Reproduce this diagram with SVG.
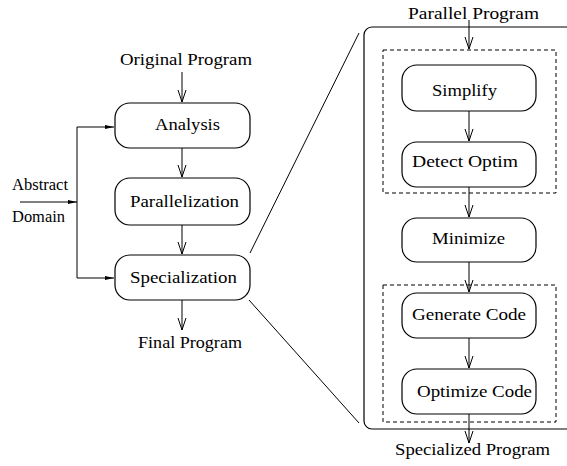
<svg xmlns="http://www.w3.org/2000/svg" width="567" height="466" viewBox="0 0 567 466">
<style>
text{font-family:"Liberation Serif","Times New Roman",serif;font-size:16px;fill:#000}
.box{fill:#fff;stroke:#000;stroke-width:1.2}
.dash{fill:none;stroke:#000;stroke-width:1;stroke-dasharray:4,3}
.ln{fill:none;stroke:#000;stroke-width:1}
.ar{fill:none;stroke:#000;stroke-width:1;marker-end:url(#v)}
.har{fill:none;stroke:#000;stroke-width:1;marker-end:url(#t)}
</style>
<defs>
<marker id="v" markerUnits="userSpaceOnUse" markerWidth="14" markerHeight="12" viewBox="-13 -6 14 12" refX="0" refY="0" orient="auto">
<path d="M-12,-4 L0,0 L-12,4" fill="none" stroke="#000" stroke-width="1"/>
</marker>
<marker id="t" markerUnits="userSpaceOnUse" markerWidth="10" markerHeight="6" viewBox="-9 -3 10 6" refX="0" refY="0" orient="auto">
<path d="M-9,-2 L0,0 L-9,2 Z" fill="#000"/>
</marker>
</defs>
<g id="container">
<rect x="364" y="27" width="240" height="402" rx="8" fill="none" stroke="#000" stroke-width="1.2"/>
<rect x="383" y="50" width="173" height="143" class="dash"/>
<rect x="383" y="285" width="173" height="137" class="dash"/>
</g>
<g id="connectors">
<path class="ar" d="M182,72 V102"/>
<path class="ar" d="M182,148 V177"/>
<path class="ar" d="M182,225 V254"/>
<path class="ar" d="M182,300 V330"/>
<path class="har" d="M20,202 H77"/>
<path class="ln" d="M77,127 V278"/>
<path class="har" d="M77,127 H114"/>
<path class="har" d="M77,278 H114"/>
<path class="ln" d="M250,253 L359,33"/>
<path class="ln" d="M249,300 L359,423"/>
<path class="ar" d="M469,20 V49"/>
<path class="ar" d="M469,111 V141"/>
<path class="ar" d="M469,187 V217"/>
<path class="ar" d="M469,262 V292"/>
<path class="ar" d="M469,338 V368"/>
<path class="ar" d="M469,414 V443"/>
</g>
<g id="original"><text x="120" y="65" textLength="132" lengthAdjust="spacingAndGlyphs">Original Program</text></g>
<g id="analysis"><rect class="box" x="115" y="103" width="135" height="45" rx="15"/><text x="155" y="130" textLength="65" lengthAdjust="spacingAndGlyphs">Analysis</text></g>
<g id="parallelization"><rect class="box" x="115" y="178" width="135" height="47" rx="15"/><text x="130" y="207" textLength="109" lengthAdjust="spacingAndGlyphs">Parallelization</text></g>
<g id="specialization"><rect class="box" x="115" y="255" width="135" height="45" rx="15"/><text x="130" y="283" textLength="107" lengthAdjust="spacingAndGlyphs">Specialization</text></g>
<g id="final"><text x="138" y="348" textLength="104" lengthAdjust="spacingAndGlyphs">Final  Program</text></g>
<g id="abstract"><text x="12" y="190" textLength="56" lengthAdjust="spacingAndGlyphs">Abstract</text><text x="12" y="222" textLength="53" lengthAdjust="spacingAndGlyphs">Domain</text></g>
<g id="parallel"><text x="408" y="19" textLength="131" lengthAdjust="spacingAndGlyphs">Parallel  Program</text></g>
<g id="simplify"><rect class="box" x="402" y="65" width="134" height="46" rx="15"/><text x="432" y="96" textLength="65" lengthAdjust="spacingAndGlyphs">Simplify</text></g>
<g id="detect"><rect class="box" x="402" y="142" width="134" height="45" rx="15"/><text x="412" y="167" textLength="106" lengthAdjust="spacingAndGlyphs">Detect  Optim</text></g>
<g id="minimize"><rect class="box" x="402" y="218" width="134" height="44" rx="15"/><text x="432" y="244" textLength="73" lengthAdjust="spacingAndGlyphs">Minimize</text></g>
<g id="generate"><rect class="box" x="402" y="293" width="134" height="45" rx="15"/><text x="412" y="320" textLength="114" lengthAdjust="spacingAndGlyphs">Generate Code</text></g>
<g id="optimize"><rect class="box" x="402" y="369" width="134" height="45" rx="15"/><text x="417" y="397" textLength="115" lengthAdjust="spacingAndGlyphs">Optimize Code</text></g>
<g id="specialized"><text x="395" y="455" textLength="155" lengthAdjust="spacingAndGlyphs">Specialized Program</text></g>
</svg>
